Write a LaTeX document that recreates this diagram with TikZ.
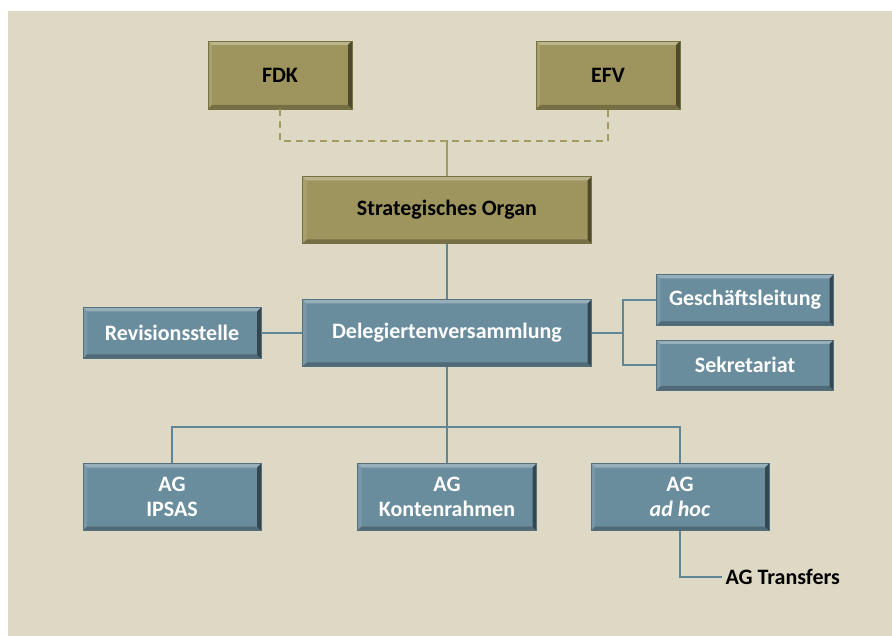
\documentclass[tikz,border=0pt]{standalone}
\usepackage{fontspec}
\setmainfont{Carlito}
\usepackage{xcolor}
\usepackage{tikz}
\usetikzlibrary{positioning,calc}

\definecolor{bgbeige}{HTML}{DED9C4}
\definecolor{olivefill}{HTML}{9E955E}
\definecolor{oliveedge}{HTML}{77703F}
\definecolor{olivedash}{HTML}{A39B62}
\definecolor{bluefill}{HTML}{6A8D9E}
\definecolor{blueedge}{HTML}{55707C}
\definecolor{blueline}{HTML}{5F8597}

\tikzset{
    bevel/.style={path picture={
        \fill[white,opacity=.3] (path picture bounding box.north west) -- (path picture bounding box.north east) -- ([xshift=-4pt,yshift=-4pt]path picture bounding box.north east) -- ([xshift=4pt,yshift=-4pt]path picture bounding box.north west) -- cycle;
        \fill[white,opacity=.1] (path picture bounding box.north west) -- ([xshift=4pt,yshift=-4pt]path picture bounding box.north west) -- ([xshift=4pt,yshift=4pt]path picture bounding box.south west) -- (path picture bounding box.south west) -- cycle;
        \fill[black,opacity=.5] (path picture bounding box.north east) -- (path picture bounding box.south east) -- ([xshift=-4pt,yshift=4pt]path picture bounding box.south east) -- ([xshift=-4pt,yshift=-4pt]path picture bounding box.north east) -- cycle;
        \fill[black,opacity=.25] (path picture bounding box.south west) -- (path picture bounding box.south east) -- ([xshift=-4pt,yshift=4pt]path picture bounding box.south east) -- ([xshift=4pt,yshift=4pt]path picture bounding box.south west) -- cycle;
    }},
    olivebox/.style={bevel, draw=oliveedge, line width=0.8pt, fill=olivefill, text=black, font=\fontsize{22}{25}\selectfont\bfseries, align=center, inner sep=0pt},
    bluebox/.style={bevel, draw=blueedge, line width=0.8pt, fill=bluefill, text=white, font=\fontsize{22}{25}\selectfont\bfseries, align=center, inner sep=0pt},
    blink/.style={blueline, line width=2pt},
    olink/.style={olivedash, line width=2pt, dash pattern=on 7pt off 5pt}
}

\begin{document}
\begin{tikzpicture}[x=1pt,y=-1pt]
    % Canvas
    \useasboundingbox (0,0) rectangle (892,636);
    \fill[bgbeige] (8,11) rectangle (892,636);

    % Top level
    \node[olivebox, minimum width=144pt, minimum height=68pt] (fdk) at (280,75) {FDK};
    \node[olivebox, minimum width=144pt, minimum height=68pt] (efv) at (608,75) {EFV};
    \node[olivebox, minimum width=289pt, minimum height=67pt] (strat) at (447,210) {Strategisches Organ};

    % Middle level
    \node[bluebox, minimum width=289pt, minimum height=67pt] (deleg) at (447,333) {Delegiertenversammlung};
    \node[bluebox, minimum width=178pt, minimum height=51pt] (rev) at (172,333) {Revisionsstelle};
    \node[bluebox, minimum width=177pt, minimum height=51pt] (gl) at (745,300) {Geschäftsleitung};
    \node[bluebox, minimum width=177pt, minimum height=50pt] (sek) at (745,365) {Sekretariat};

    % Working groups
    \node[bluebox, minimum width=178pt, minimum height=67pt] (ipsas) at (172,497) {AG\\IPSAS};
    \node[bluebox, minimum width=179pt, minimum height=67pt] (konto) at (447,497) {AG\\Kontenrahmen};
    \node[bluebox, minimum width=178pt, minimum height=67pt] (adhoc) at (680,497) {AG\\\textit{ad hoc}};
    \node[anchor=west, font=\fontsize{22}{25}\selectfont\bfseries] (transf) at (722,577) {AG Transfers};

    % Connectors
    \coordinate (dash) at (447,141);
    \draw[olink] (fdk.south) |- (dash) -| (efv.south);
    \draw[olivedash, line width=2pt] (dash) -- (strat.north);
    \draw[blink] (strat.south) -- (deleg.north);
    \draw[blink] (rev.east) -- (deleg.west);
    \coordinate (fork) at (623,333);
    \draw[blink] (deleg.east) -- (fork);
    \draw[blink] (gl.west) -| (fork) |- (sek.west);
    \coordinate (bus) at (447,427);
    \draw[blink] (deleg.south) -- (konto.north);
    \draw[blink] (ipsas.north) |- (bus) -| (adhoc.north);
    \draw[blink] (adhoc.south) |- (transf.west);
\end{tikzpicture}
\end{document}
